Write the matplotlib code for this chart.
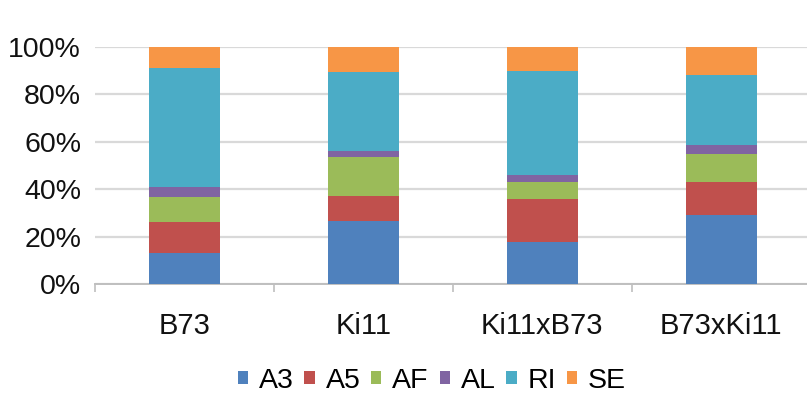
import numpy as np
import matplotlib
matplotlib.use('Agg')
from matplotlib import pyplot as plt

plt.rcParams['font.family'] = ['Liberation Sans', 'DejaVu Sans']

genotypes = ['B73', 'Ki11', 'Ki11xB73', 'B73xKi11']
classes = ['A3', 'A5', 'AF', 'AL', 'RI', 'SE']
colors = ['#4F81BD', '#C0504D', '#9BBB59', '#8064A2', '#4BACC6', '#F79646']

# share of each class per genotype (%)
a3 = [13.0, 26.7, 17.7, 29.0]
a5 = [13.0, 10.6, 18.0, 13.9]
af = [10.6, 16.4, 7.5, 11.8]
al = [4.5, 2.5, 2.8, 3.9]
ri = [50.2, 33.1, 43.7, 29.6]
se = [8.7, 10.7, 10.3, 11.8]
series = [a3, a5, af, al, ri, se]

fig = plt.figure(figsize=(8.07, 3.98), dpi=100)
ax = fig.add_axes([0.1177, 0.2864, 0.887, 0.5956])

x = np.arange(len(genotypes))
bottom = np.zeros(len(genotypes))
for name, vals, c in zip(classes, series, colors):
    v = np.array(vals) / np.sum(series, axis=0)
    ax.bar(x, v, 0.4, bottom=bottom, color=c, label=name, zorder=3)
    bottom += v

ax.set_xlim(-0.5, 3.5)
ax.set_ylim(0, 1)
ax.set_yticks(np.linspace(0, 1, 6))
ax.set_yticklabels(['0%', '20%', '40%', '60%', '80%', '100%'], fontsize=20.5, color='#111111')
ax.tick_params(axis='y', length=0, pad=10)
ax.grid(axis='y', color='#d9d9d9', linewidth=1.6, zorder=0)

ax.set_xticks(x)
ax.set_xticklabels(genotypes, fontsize=21, color='#111111')
ax.tick_params(axis='x', which='major', length=0, pad=20)
ax.set_xticks(np.arange(-0.5, 4, 1), minor=True)
ax.tick_params(axis='x', which='minor', length=6, width=1.2, color='#bfbfbf')

for s in ['top', 'right', 'left']:
    ax.spines[s].set_visible(False)
ax.spines['bottom'].set_color('#bfbfbf')
ax.spines['bottom'].set_linewidth(1.4)

fig.legend(loc='center', bbox_to_anchor=(0.535, 0.043), ncol=6, frameon=False,
           fontsize=20.5, handlelength=0.36, handleheight=0.36, handletextpad=0.38,
           columnspacing=0.38)

fig.savefig('out.png', dpi=100)
